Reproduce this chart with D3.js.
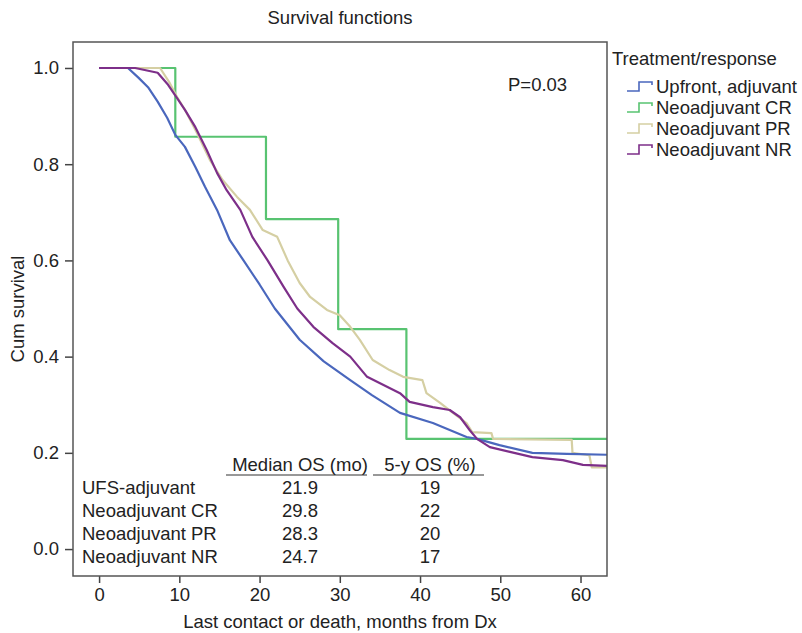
<!DOCTYPE html>
<html>
<head>
<meta charset="utf-8">
<script src="https://cdn.jsdelivr.net/npm/d3@7"></script>
<style>
  body { margin: 0; background: #fff; }
  text { font-family: "Liberation Sans", Arial, sans-serif; fill: #222; }
</style>
</head>
<body>
<svg id="chart" width="802" height="633"></svg>
<script>
// Kaplan-Meier curves: [months, cum survival]
const upfront = [
  [0, 1.0], [3.6, 1.0], [4.9, 0.98], [6.1, 0.96], [7.3, 0.93], [8.5, 0.896],
  [9.5, 0.861], [10.7, 0.836], [12.0, 0.794], [13.2, 0.753], [14.7, 0.705],
  [16.3, 0.642], [18, 0.60], [20, 0.55], [21.9, 0.50], [25, 0.435], [28, 0.39],
  [31.3, 0.351], [34, 0.32], [37.5, 0.283], [41.6, 0.262], [45.8, 0.233],
  [47.1, 0.229], [49.9, 0.216], [54, 0.20], [58.3, 0.198], [63.3, 0.196]
];
const neoCR = [
  [0, 1.0], [9.5, 0.857], [20.8, 0.686], [29.8, 0.457], [38.3, 0.229], [63.3, 0.229]
];
const neoPR = [
  [0, 1.0], [7.6, 1.0], [8.8, 0.969], [9.7, 0.94], [10.7, 0.913], [12.2, 0.865],
  [13.8, 0.809], [15.4, 0.767], [17.2, 0.732], [18.8, 0.705], [20.4, 0.663],
  [22.2, 0.649], [23.5, 0.60], [25, 0.553], [26.3, 0.524], [28.4, 0.497],
  [30, 0.486], [31.3, 0.462], [32.5, 0.435], [34.1, 0.393], [36.2, 0.372],
  [37.9, 0.358], [40.3, 0.351], [40.8, 0.324], [42.5, 0.304], [44.1, 0.283],
  [45.8, 0.262], [46.5, 0.243], [48.9, 0.241], [49.1, 0.229], [58.9, 0.227],
  [59.0, 0.20], [61.1, 0.195], [61.4, 0.17], [63.3, 0.17]
];
const neoNR = [
  [0, 1.0], [4.5, 1.0], [7.3, 0.99], [8.6, 0.965], [9.7, 0.938], [10.7, 0.913],
  [12.0, 0.877], [13.4, 0.83], [14.7, 0.782], [15.9, 0.746], [17.6, 0.705],
  [19.1, 0.649], [21, 0.60], [23, 0.545], [24.7, 0.50], [26.7, 0.462],
  [29.1, 0.428], [31.3, 0.40], [33.4, 0.358], [37.5, 0.324], [38.7, 0.306],
  [41.6, 0.295], [43.7, 0.289], [45, 0.274], [46.2, 0.247], [47.1, 0.229],
  [48.7, 0.212], [51.2, 0.202], [54, 0.191], [57.8, 0.185], [60.3, 0.175],
  [63.3, 0.173]
];

const seriesNames = ['Upfront, adjuvant', 'Neoadjuvant CR', 'Neoadjuvant PR', 'Neoadjuvant NR'];
const seriesColors = ['#4a67bd', '#58c371', '#d5cfa3', '#7d2f89'];

const xTicks = [0, 10, 20, 30, 40, 50, 60];
const yTicks = [0.0, 0.2, 0.4, 0.6, 0.8, 1.0];

const tableRows = ['UFS-adjuvant', 'Neoadjuvant CR', 'Neoadjuvant PR', 'Neoadjuvant NR'];
const tableHeader = ['Median OS (mo)', '5-y OS (%)'];
const medianOS = ['21.9', '29.8', '28.3', '24.7'];
const fiveYearOS = ['19', '22', '20', '17'];

const FONT = '18.5px';

const svg = d3.select('#chart');

// plot frame
const frame = { left: 73, top: 42, right: 607, bottom: 576 };

const x = d3.scaleLinear().domain([-3.25, 63.3]).range([frame.left, frame.right]);
const y = d3.scaleLinear().domain([-0.056, 1.054]).range([frame.bottom, frame.top]);

svg.append('defs').append('clipPath')
    .attr('id', 'plot-clip')
    .append('rect')
    .attr('x', frame.left)
    .attr('y', frame.top)
    .attr('width', frame.right - frame.left)
    .attr('height', frame.bottom - frame.top);

// title
svg.append('text')
    .attr('x', (frame.left + frame.right) / 2)
    .attr('y', 18)
    .attr('dy', '0.35em')
    .style('font-size', FONT)
    .style('text-anchor', 'middle')
    .text('Survival functions');

// axes
const xAxis = svg.append('g')
    .attr('transform', `translate(0, ${frame.bottom})`)
    .call(d3.axisBottom(x).tickValues(xTicks).tickSize(7).tickPadding(5).tickFormat(d3.format('d')));
const yAxis = svg.append('g')
    .attr('transform', `translate(${frame.left}, 0)`)
    .call(d3.axisLeft(y).tickValues(yTicks).tickSize(8).tickPadding(6).tickFormat(d3.format('.1f')));

[xAxis, yAxis].forEach(ax => {
    ax.select('.domain').remove();
    ax.selectAll('.tick line').style('stroke', '#444').style('stroke-width', 1.5);
    ax.selectAll('.tick text')
        .style('font-family', '"Liberation Sans", Arial, sans-serif')
        .style('font-size', FONT)
        .style('fill', '#222');
});

// axis titles
svg.append('text')
    .attr('x', (frame.left + frame.right) / 2)
    .attr('y', 622)
    .attr('dy', '0.35em')
    .style('font-size', FONT)
    .style('text-anchor', 'middle')
    .text('Last contact or death, months from Dx');

svg.append('text')
    .attr('transform', `translate(18, ${(frame.top + frame.bottom) / 2}) rotate(-90)`)
    .attr('dy', '0.35em')
    .style('font-size', FONT)
    .style('text-anchor', 'middle')
    .text('Cum survival');

// curves
const curves = [upfront, neoCR, neoPR, neoNR];
const plot = svg.append('g').attr('clip-path', 'url(#plot-clip)');

const drawOrder = [1, 2, 0, 3];
drawOrder.forEach(i => {
    const line = d3.line()
        .x(d => x(d[0]))
        .y(d => y(d[1]))
        .curve(i === 1 ? d3.curveStepAfter : d3.curveLinear);
    plot.append('path')
        .datum(curves[i])
        .attr('d', line)
        .style('fill', 'none')
        .style('stroke', seriesColors[i])
        .style('stroke-width', 2.2)
        .style('stroke-linejoin', 'round');
});

// frame on top of curves
svg.append('rect')
    .attr('x', frame.left)
    .attr('y', frame.top)
    .attr('width', frame.right - frame.left)
    .attr('height', frame.bottom - frame.top)
    .style('fill', 'none')
    .style('stroke', '#555')
    .style('stroke-width', 1.5);

// P value
svg.append('text')
    .attr('x', 508)
    .attr('y', 85)
    .attr('dy', '0.35em')
    .style('font-size', FONT)
    .text('P=0.03');

// table inside plot
const colX = [300, 430];
const table = svg.append('g').attr('class', 'os-table');

table.selectAll('.hdr')
    .data(tableHeader)
    .enter()
    .append('text')
    .attr('class', 'hdr')
    .attr('x', (d, i) => colX[i])
    .attr('y', 465)
    .attr('dy', '0.35em')
    .style('font-size', FONT)
    .style('text-anchor', 'middle')
    .text(d => d);

table.selectAll('.hdr-line')
    .data([[226, 367], [373, 484]])
    .enter()
    .append('line')
    .attr('x1', d => d[0])
    .attr('x2', d => d[1])
    .attr('y1', 475)
    .attr('y2', 475)
    .style('stroke', '#333')
    .style('stroke-width', 1.2);

const rowY = i => 488 + i * 23;

table.selectAll('.row-label')
    .data(tableRows)
    .enter()
    .append('text')
    .attr('x', 82)
    .attr('y', (d, i) => rowY(i))
    .attr('dy', '0.35em')
    .style('font-size', FONT)
    .text(d => d);

table.selectAll('.med')
    .data(medianOS)
    .enter()
    .append('text')
    .attr('x', colX[0])
    .attr('y', (d, i) => rowY(i))
    .attr('dy', '0.35em')
    .style('font-size', FONT)
    .style('text-anchor', 'middle')
    .text(d => d);

table.selectAll('.fivey')
    .data(fiveYearOS)
    .enter()
    .append('text')
    .attr('x', colX[1])
    .attr('y', (d, i) => rowY(i))
    .attr('dy', '0.35em')
    .style('font-size', FONT)
    .style('text-anchor', 'middle')
    .text(d => d);

// legend
const legend = svg.append('g').attr('class', 'legend');

legend.append('text')
    .attr('x', 612)
    .attr('y', 59)
    .attr('dy', '0.35em')
    .style('font-size', FONT)
    .text('Treatment/response');

const items = legend.selectAll('.legend-item')
    .data(seriesNames)
    .enter()
    .append('g')
    .attr('class', 'legend-item')
    .attr('transform', (d, i) => `translate(0, ${87 + i * 21})`);

items.append('path')
    .attr('d', 'M627,4H639V-5H652V-2')
    .style('fill', 'none')
    .style('stroke', (d, i) => seriesColors[i])
    .style('stroke-width', 1.6);

items.append('text')
    .attr('x', 656)
    .attr('dy', '0.35em')
    .style('font-size', FONT)
    .text(d => d);
</script>
</body>
</html>
